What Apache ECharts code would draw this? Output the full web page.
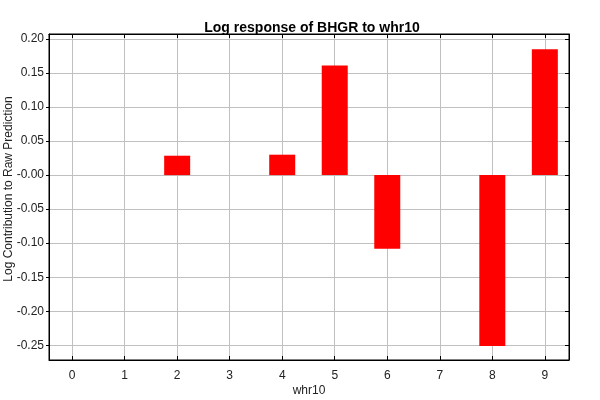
<!DOCTYPE html>
<html>
<head>
<meta charset="utf-8">
<script src="https://cdn.jsdelivr.net/npm/echarts@6/dist/echarts.min.js"></script>
<style>
  html, body { margin: 0; padding: 0; background: #fff; }
  #chart { width: 600px; height: 400px; }
</style>
</head>
<body>
<div id="chart"></div>
<script>
// whr10 bins and their log contribution
const categories = [0, 1, 2, 3, 4, 5, 6, 7, 8, 9];
const values = [0, 0, 0.0285, 0, 0.030, 0.161, -0.108, 0, -0.251, 0.185];
const yMin = -0.2716;
const yMax = 0.2073;

const chart = echarts.init(document.getElementById("chart"));
const font = "'Liberation Sans', Arial, sans-serif";

const fmtY = (v) => (Math.abs(v) < 1e-9 ? "-0.00" : v.toFixed(2));

chart.setOption({
  animation: false,
  title: {
    text: "Log response of BHGR to whr10",
    left: 307,
    top: 16,
    textAlign: "center",
    textStyle: { fontFamily: font, fontSize: 14, fontWeight: "bold", color: "#000" },
  },
  grid: {
    left: 49,
    right: 31,
    top: 34,
    bottom: 40,
    outerBoundsMode: "none",
    containLabel: false,
    show: true,
    borderColor: "#000",
    borderWidth: 1,
    backgroundColor: "#fff",
  },
  xAxis: [
    {
      type: "value",
      min: -0.44,
      max: 9.46,
      minInterval: 1,
      maxInterval: 1,
      splitNumber: 10,
      name: "whr10",
      nameLocation: "middle",
      nameGap: 25,
      nameMoveOverlap: false,
      nameTextStyle: { fontFamily: font, fontSize: 12, color: "#222" },
      axisLine: { onZero: false, lineStyle: { color: "#000" } },
      axisTick: { inside: true, length: 4, lineStyle: { color: "#000" } },
      axisLabel: {
        fontFamily: font,
        fontSize: 12,
        color: "#222",
        margin: 10,
        showMinLabel: false,
        showMaxLabel: false,
        formatter: (v) => (Number.isInteger(v) && categories.includes(v) ? String(v) : ""),
      },
      splitLine: { show: true, lineStyle: { color: "#c0c0c0" } },
    },
    {
      type: "value",
      position: "top",
      min: -0.44,
      max: 9.46,
      minInterval: 1,
      maxInterval: 1,
      splitNumber: 10,
      axisLine: { onZero: false, lineStyle: { color: "#000" } },
      axisTick: { inside: true, length: 4, lineStyle: { color: "#000" } },
      axisLabel: { show: false },
      splitLine: { show: false },
    },
  ],
  yAxis: [
    {
      type: "value",
      min: yMin,
      max: yMax,
      minInterval: 0.05,
      maxInterval: 0.05,
      splitNumber: 10,
      name: "Log Contribution to Raw Prediction",
      nameLocation: "middle",
      nameGap: 34,
      nameMoveOverlap: false,
      nameTextStyle: { fontFamily: font, fontSize: 12, color: "#222", padding: [0, 0, 0, 16] },
      axisLine: { show: true, onZero: false, lineStyle: { color: "#000" } },
      axisTick: { show: true, length: 3, lineStyle: { color: "#000" } },
      axisLabel: {
        fontFamily: font,
        fontSize: 12,
        color: "#222",
        margin: 5,
        showMinLabel: false,
        showMaxLabel: false,
        formatter: fmtY,
      },
      splitLine: { show: true, lineStyle: { color: "#c0c0c0" } },
    },
    {
      type: "value",
      position: "right",
      min: yMin,
      max: yMax,
      minInterval: 0.05,
      maxInterval: 0.05,
      splitNumber: 10,
      axisLine: { show: true, onZero: false, lineStyle: { color: "#000" } },
      axisTick: { show: true, inside: true, length: 4, lineStyle: { color: "#000" } },
      axisLabel: { show: false },
      splitLine: { show: false },
    },
  ],
  series: [
    {
      type: "bar",
      xAxisIndex: 0,
      yAxisIndex: 0,
      barWidth: 26,
      itemStyle: { color: "#ff0000" },
      data: categories.map((c, i) => [c, values[i]]),
    },
  ],
});
</script>
</body>
</html>
